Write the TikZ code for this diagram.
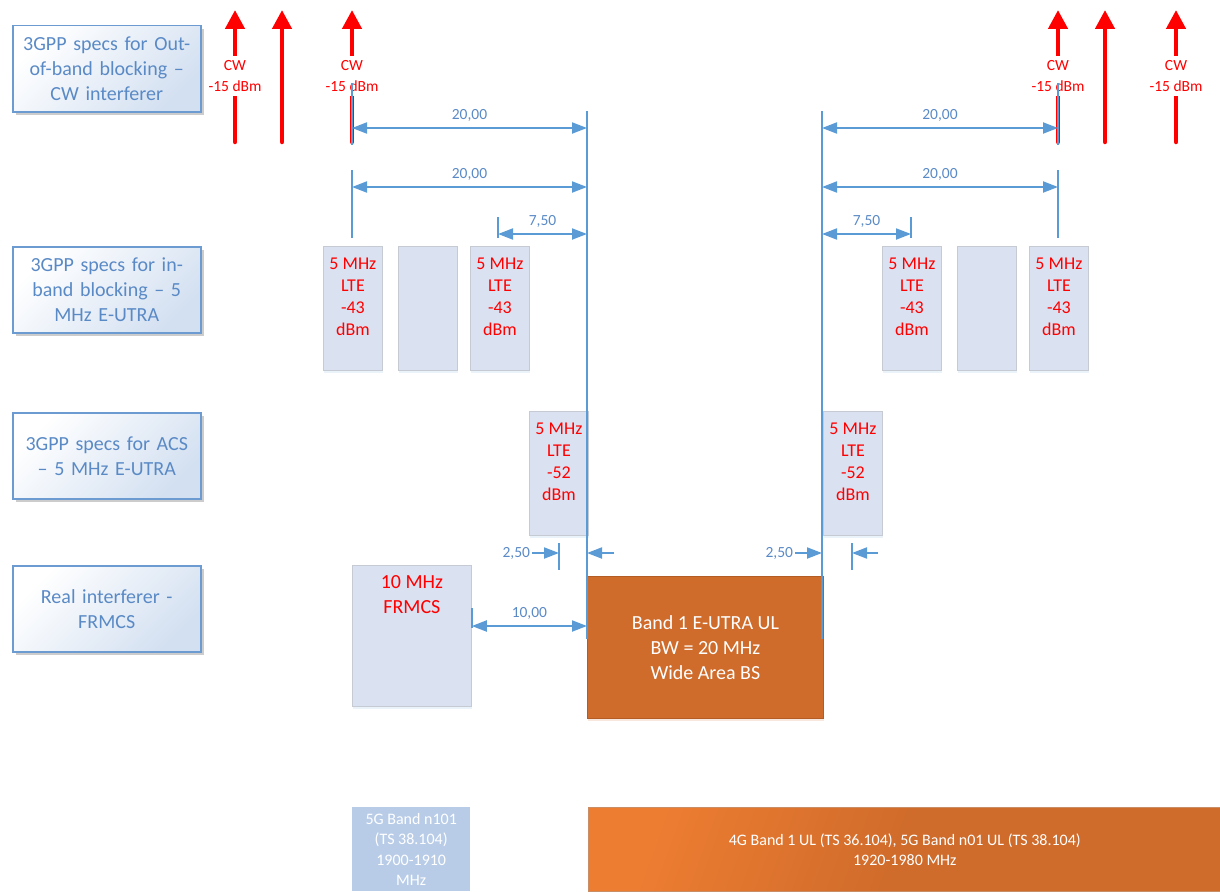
\documentclass[tikz,border=0pt]{standalone}
\usepackage{fontspec}
\setmainfont{Carlito}
\usetikzlibrary{arrows.meta,shadows}

\definecolor{dimblue}{HTML}{5B9BD5}
\definecolor{dimtext}{HTML}{5A8AC6}
\definecolor{spectext}{HTML}{5A8AC6}
\definecolor{specedge}{HTML}{6C9BD2}
\definecolor{specfill}{HTML}{D3E0F1}
\definecolor{ltefill}{HTML}{DAE2F2}
\definecolor{lteedge}{HTML}{C5CAD3}
\definecolor{bandorange}{HTML}{CF6B2B}
\definecolor{bandedge}{HTML}{B35D25}
\definecolor{ulorange}{HTML}{ED7D31}
\definecolor{nblue}{HTML}{B8CCE8}

\begin{document}
\begin{tikzpicture}[x=1pt, y=-1pt,
  specbox/.style={anchor=north west, draw=specedge, line width=1.5pt,
    left color=white, right color=specfill, shading angle=45,
    minimum width=188pt, minimum height=86pt, text width=178pt, align=center,
    text=spectext, font=\fontsize{20}{25}\selectfont,
    drop shadow={shadow xshift=3pt, shadow yshift=-3pt, fill=black, opacity=0.2}},
  ltebox/.style={anchor=north west, draw=lteedge, line width=0.8pt, fill=ltefill,
    minimum width=59pt, minimum height=124pt, inner sep=0pt,
    drop shadow={shadow xshift=1pt, shadow yshift=-3pt, fill=dimblue!40, opacity=0.3}},
  ltetext/.style={anchor=north, yshift=-10pt, inner sep=2pt, align=center, text=red,
    font=\fontsize{18}{22}\selectfont},
  cwarrow/.style={draw=red, line width=4.5pt, line cap=round,
    -{Triangle[length=19pt,width=19pt]}},
  cwtext/.style={fill=white, text=red, align=center, inner xsep=1pt, inner ysep=5pt,
    font=\fontsize{15.5}{20.5}\selectfont},
  guide/.style={draw=dimblue, line width=2pt},
  dim/.style={draw=dimblue, line width=2pt,
    {Triangle[length=15pt,width=11pt]}-{Triangle[length=15pt,width=11pt]}},
  dimone/.style={draw=dimblue, line width=2pt, -{Triangle[length=15pt,width=11pt]}},
  dimlabel/.style={text=dimtext, inner sep=1pt, font=\fontsize{15.5}{18}\selectfont}]
\useasboundingbox (0,0) rectangle (1220,891);

% row titles
\node[specbox] (oob) at (12,25) {3GPP specs for Out-\\of-band blocking \textendash\\CW interferer};
\node[specbox] (inb) at (12,246) {3GPP specs for in-\\band blocking \textendash{} 5\\MHz E-UTRA};
\node[specbox] (acs) at (12,412) {3GPP specs for ACS\\\textendash{} 5 MHz E-UTRA};
\node[specbox] (real) at (12,565) {Real interferer -\\FRMCS};

% in-band blockers
\foreach \x [count=\i] in {323,398,470,882,957,1029}
  \node[ltebox] (ib\i) at (\x,246) {};
\foreach \i in {1,3,4,6}
  \node[ltetext] (ibt\i) at (ib\i.north) {5 MHz\\LTE\\-43\\dBm};

% adjacent channel
\node[ltebox] (acsl) at (529,411) {};
\node[ltebox] (acsr) at (823,411) {};
\node[ltetext] (acstl) at (acsl.north) {5 MHz\\LTE\\-52\\dBm};
\node[ltetext] (acstr) at (acsr.north) {5 MHz\\LTE\\-52\\dBm};

% FRMCS and wanted band
\node[ltebox, minimum width=119pt, minimum height=141pt] (frmcs) at (352,565) {};
\node[ltetext, font=\fontsize{20}{25}\selectfont, yshift=2pt] (frmcst) at (frmcs.north) {10 MHz\\FRMCS};
\node[anchor=north west, fill=bandorange, draw=bandedge, line width=0.8pt,
  minimum width=236pt, minimum height=142pt, align=center, text=white,
  font=\fontsize{20}{25}\selectfont,
  drop shadow={shadow xshift=1pt, shadow yshift=-3pt, fill=bandorange!40, opacity=0.4}]
  (band1) at (587,576) {Band 1 E-UTRA UL\\BW = 20 MHz\\Wide Area BS};

% band plan
\node[anchor=north west, fill=nblue, minimum width=118pt, minimum height=84pt,
  inner sep=0pt, align=center, text=white, font=\fontsize{16}{20.5}\selectfont]
  (n101) at (352,807) {5G Band n101\\(TS 38.104)\\1900-1910\\MHz};
\node[anchor=north west, left color=ulorange, right color=bandorange,
  middle color=bandorange, shading angle=70,
  draw=bandedge!70, line width=0.6pt, minimum width=633pt, minimum height=84pt,
  inner sep=0pt, align=center, text=white, font=\fontsize{16}{20}\selectfont]
  (ul) at (588,807) {4G Band 1 UL (TS 36.104), 5G Band n01 UL (TS 38.104)\\1920-1980 MHz};

% CW interferers
\foreach \x [count=\i] in {235,282,352,1058,1105,1176} {
  \coordinate (cwb\i) at (\x,142);
  \coordinate (cwt\i) at (\x,10);
  \draw[cwarrow] (cwb\i) -- (cwt\i);
}
\foreach \i in {1,3,4,6}
  \node[cwtext] (cwl\i) at (cwb\i |- 0,76) {CW\\-15 dBm};

% guide lines
\coordinate (oobL) at (352,0);
\coordinate (ibL) at (498,0);
\coordinate (acsL) at (559,0);
\coordinate (edgeL) at (587,0);
\coordinate (edgeR) at (822,0);
\coordinate (acsR) at (852,0);
\coordinate (ibR) at (911,0);
\coordinate (oobR) at (1058,0);
\foreach \g in {oobL,oobR} {
  \draw[guide] (\g |- 0,83) -- (\g |- 0,145);
  \draw[guide] (\g |- 0,170) -- (\g |- 0,238);
}
\draw[guide] (edgeL |- 0,111) -- (edgeL |- 0,639);
\draw[guide] (edgeR |- 0,111) -- (edgeR |- 0,639);
\draw[guide] (ibL |- 0,217) -- (ibL |- 0,238);
\draw[guide] (ibR |- 0,217) -- (ibR |- 0,238);
\draw[guide] (acsL |- 0,543) -- (acsL |- 0,570);
\draw[guide] (acsR |- 0,543) -- (acsR |- 0,570);
\draw[guide] (frmcs.east |- 0,608) -- (frmcs.east |- 0,628);

% dimensions
\draw[dim] (oobL |- 0,128) -- node[dimlabel, above=5pt] (d1) {20,00} (edgeL |- 0,128);
\draw[dim] (edgeR |- 0,128) -- node[dimlabel, above=5pt] (d2) {20,00} (oobR |- 0,128);
\draw[dim] (oobL |- 0,187) -- node[dimlabel, above=5pt] (d3) {20,00} (edgeL |- 0,187);
\draw[dim] (edgeR |- 0,187) -- node[dimlabel, above=5pt] (d4) {20,00} (oobR |- 0,187);
\draw[dim] (ibL |- 0,234) -- node[dimlabel, above=5pt] (d5) {7,50} (edgeL |- 0,234);
\draw[dim] (edgeR |- 0,234) -- node[dimlabel, above=5pt] (d6) {7,50} (ibR |- 0,234);
\draw[dim] (frmcs.east |- 0,626) -- node[dimlabel, above=5pt] (d7) {10,00} (edgeL |- 0,626);
\draw[dimone] (532,553) node[dimlabel, left] (d8) {2,50} -- (acsL |- 0,553);
\draw[dimone] (614,553) -- (edgeL |- 0,553);
\draw[dimone] (795,553) node[dimlabel, left] (d9) {2,50} -- (edgeR |- 0,553);
\draw[dimone] (878,553) -- (acsR |- 0,553);
\end{tikzpicture}
\end{document}
